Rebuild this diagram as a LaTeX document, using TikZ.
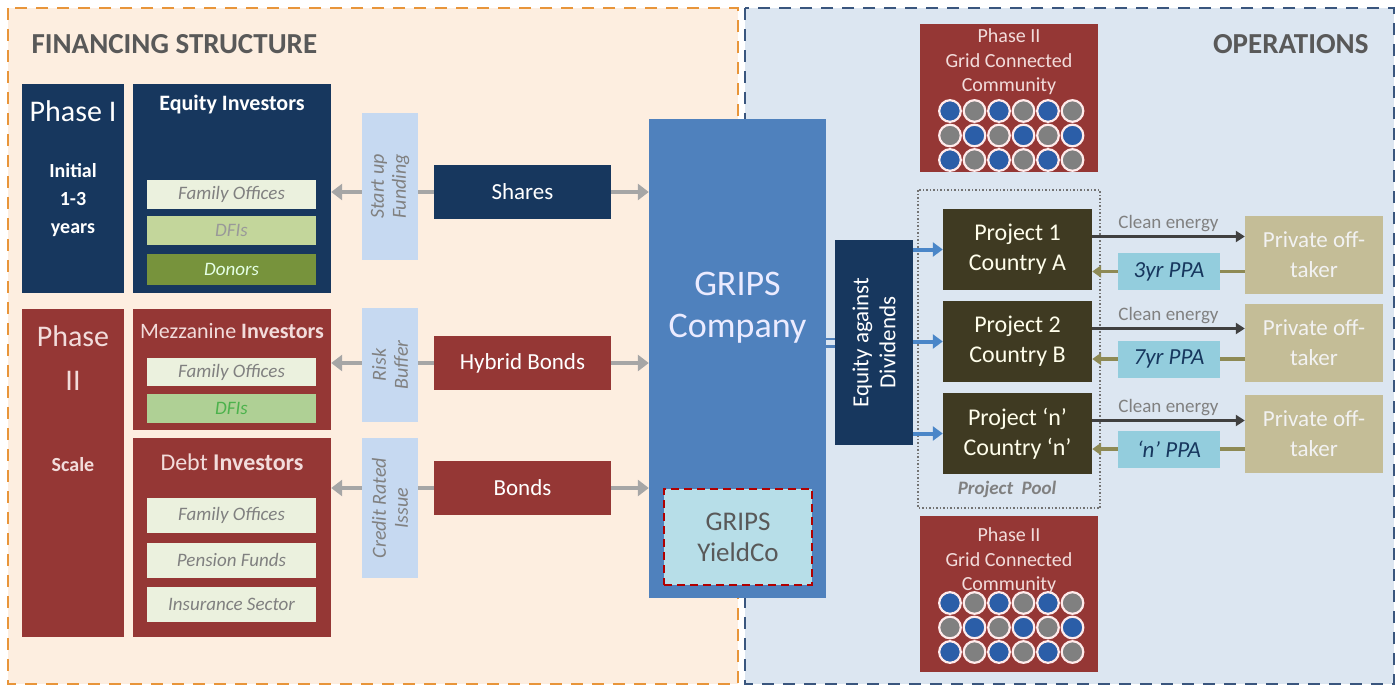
\documentclass[tikz,border=0pt]{standalone}
\usepackage{fontspec}
\setmainfont{Carlito}
\usepackage{xcolor}
\usetikzlibrary{arrows.meta,positioning}

\definecolor{navy}{HTML}{17375E}
\definecolor{brick}{HTML}{953735}
\definecolor{peach}{HTML}{FDEEE0}
\definecolor{paleblue}{HTML}{DCE6F1}
\definecolor{frameorange}{HTML}{E8953A}
\definecolor{framenavy}{HTML}{3A567E}
\definecolor{gripsblue}{HTML}{4F81BD}
\definecolor{labelblue}{HTML}{C6D9F1}
\definecolor{yieldcyan}{HTML}{B7DEE8}
\definecolor{ppacyan}{HTML}{93CDDD}
\definecolor{projbrown}{HTML}{3F3A22}
\definecolor{offtan}{HTML}{C4BD97}
\definecolor{fopale}{HTML}{EBF1DE}
\definecolor{dfigreen}{HTML}{C3D69B}
\definecolor{mzgreen}{HTML}{AFD095}
\definecolor{donorgreen}{HTML}{77933C}
\definecolor{arrowgray}{HTML}{A6A6A6}
\definecolor{arrowblue}{HTML}{4A86C8}
\definecolor{arrowolive}{HTML}{8E8A55}
\definecolor{dotblue}{HTML}{2B5EA8}
\definecolor{dotgray}{HTML}{808080}
\definecolor{pinkwhite}{HTML}{F2DCDB}

\begin{document}
\begin{tikzpicture}[x=1pt, y=-1pt,
		box/.style={inner sep=2pt, align=center, text=white},
		navybox/.style={box, fill=navy},
		redbox/.style={box, fill=brick},
		subbox/.style={box, minimum width=169pt, text=gray, font=\fontsize{19}{21}\selectfont\itshape},
		lblbox/.style={box, fill=labelblue, rotate=90, text=gray, font=\fontsize{20}{22}\selectfont\itshape},
		midbox/.style={box, minimum width=177pt, minimum height=54pt, font=\fontsize{23}{25}\selectfont},
		projbox/.style={box, fill=projbrown, minimum width=149pt, minimum height=81pt, text=white!92!yellow, font=\fontsize{24}{30}\selectfont},
		offbox/.style={box, fill=offtan, minimum width=138pt, minimum height=78pt, text=white!95!black, font=\fontsize{23}{30}\selectfont},
		ppabox/.style={box, fill=ppacyan, minimum width=102pt, minimum height=37pt, text=navy, font=\fontsize{23}{25}\selectfont\itshape},
		combox/.style={box, fill=brick, minimum width=178pt, text=pinkwhite},
		comtext/.style={box, text=pinkwhite, font=\fontsize{20}{24.5}\selectfont},
		grayarrow/.style={draw=arrowgray, line width=4.5pt, -{Triangle[length=11pt,width=16pt]}},
		bluearrow/.style={draw=arrowblue, line width=4pt, -{Triangle[length=10pt,width=14pt]}},
		cleanarrow/.style={draw=black!75, line width=2.5pt, -{Triangle[length=9pt,width=11pt]}},
		ppaarrow/.style={draw=arrowolive, line width=3.5pt, -{Triangle[length=9pt,width=12pt]}},
		ppaline/.style={draw=arrowolive, line width=3.5pt},
		energylbl/.style={text=gray, font=\fontsize{19}{21}\selectfont},
		area/.style={line width=2pt, dash pattern=on 12pt off 9pt}
	]
	\useasboundingbox (0,0) rectangle (1400,688);
	\fill[white] (0,0) rectangle (1400,688);

	% the two areas
	\draw[area, draw=frameorange, fill=peach] (8,8) rectangle (738,684);
	\draw[area, draw=framenavy, fill=paleblue] (745,8) rectangle (1394,684);
	\node[anchor=west, text=black!65, font=\fontsize{29}{31}\selectfont\bfseries] (fintitle) at (28,44) {FINANCING STRUCTURE};
	\node[anchor=east, text=black!65, font=\fontsize{29}{31}\selectfont\bfseries] (optitle) at (1372,44) {OPERATIONS};

	% phase I
	\node[navybox, minimum width=102pt, minimum height=209pt] (phaseone) at (73,188.5) {};
	\node[box, font=\fontsize{30}{32}\selectfont] (phaseonename) at (73,111) {Phase I};
	\node[box, font=\fontsize{20}{28}\selectfont\bfseries] (phaseoneyears) at (73,200) {Initial\\1-3\\years};
	\node[navybox, minimum width=198pt, minimum height=209pt] (equity) at (232,188.5) {};
	\node[box, font=\fontsize{22}{24}\selectfont\bfseries] (equityhead) at (232,105) {Equity Investors};
	\node[subbox, fill=fopale, minimum height=29pt] (eqfo) at (231.5,194.5) {Family Offices};
	\node[subbox, fill=dfigreen, minimum height=29pt, text=gray!80] (eqdfi) at (231.5,230.5) {DFIs};
	\node[subbox, fill=donorgreen, minimum height=31pt, text=white!90!green] (eqdonor) at (231.5,269) {Donors};

	% phase II
	\node[redbox, minimum width=102pt, minimum height=328pt] (phasetwo) at (73,473) {};
	\node[box, text=pinkwhite, font=\fontsize{30}{44}\selectfont] (phasetwoname) at (73,358) {Phase\\II};
	\node[box, text=pinkwhite, font=\fontsize{20}{22}\selectfont\bfseries] (phasetwoscale) at (73,465) {Scale};
	\node[redbox, minimum width=198pt, minimum height=121pt] (mezz) at (232,369.5) {};
	\node[box, text=pinkwhite, font=\fontsize{22}{24}\selectfont] (mezzhead) at (232,331) {Mezzanine \textbf{Investors}};
	\node[subbox, fill=fopale, minimum height=28pt] (mzfo) at (231.5,372) {Family Offices};
	\node[subbox, fill=mzgreen, minimum height=29pt, text=green!40!gray] (mzdfi) at (231.5,408.5) {DFIs};
	\node[redbox, minimum width=198pt, minimum height=199pt] (debt) at (232,537.5) {};
	\node[box, text=pinkwhite, font=\fontsize{24}{26}\selectfont] (debthead) at (232,462) {Debt \textbf{Investors}};
	\node[subbox, fill=fopale, minimum height=35pt] (dbfo) at (231.5,515) {Family Offices};
	\node[subbox, fill=fopale, minimum height=35pt] (dbpension) at (231.5,560) {Pension Funds};
	\node[subbox, fill=fopale, minimum height=35pt] (dbinsure) at (231.5,604.5) {Insurance Sector};

	% what each issue is for
	\node[lblbox, minimum width=147pt, minimum height=56pt] (startup) at (390,186.5) {Start up\\Funding};
	\node[lblbox, minimum width=114pt, minimum height=56pt] (risk) at (390,365) {Risk\\Buffer};
	\node[lblbox, minimum width=140pt, minimum height=56pt] (credit) at (390,508) {Credit Rated\\Issue};

	% instruments
	\node[midbox, fill=navy] (shares) at (522.5,192) {Shares};
	\node[midbox, fill=brick] (hybrid) at (522.5,363) {Hybrid Bonds};
	\node[midbox, fill=brick] (bonds) at (522.5,488) {Bonds};

	% company
	\node[box, fill=gripsblue, minimum width=177pt, minimum height=479pt] (grips) at (737.5,358.5) {};
	\node[box, text=white!92!blue, font=\fontsize{36}{42}\selectfont] (gripsname) at (737.5,308) {GRIPS\\Company};
	\node[box, fill=yieldcyan, draw=red!70!black, dash pattern=on 8pt off 5pt, line width=2pt, minimum width=148pt, minimum height=96pt, text=black!65, font=\fontsize{27}{31}\selectfont] (yieldco) at (738,537) {GRIPS\\YieldCo};

	\foreach \lbl/\inst/\inv in {startup/shares/equity, risk/hybrid/mezz, credit/bonds/debt} {
		\draw[grayarrow] (\lbl.north |- \inst) -- (\inv.east |- \inst);
		\draw[draw=arrowgray, line width=4.5pt] (\inst.west) -- (\lbl.south |- \inst);
		\draw[grayarrow] (\inst.east) -- (grips.west |- \inst);
	}

	% operations
	\node[navybox, rotate=90, minimum width=205pt, minimum height=78pt, font=\fontsize{23}{27}\selectfont] (eqdiv) at (874,342.5) {Equity against\\Dividends};
	\draw[draw=gripsblue, line width=2.5pt, double=paleblue, double distance=5pt] (grips.east |- eqdiv) -- (eqdiv.north);

	\draw[dotted, line width=1.5pt, draw=black!55] (918,190) rectangle (1100,508);
	\node[text=gray, font=\fontsize{19}{21}\selectfont\bfseries\itshape] (pool) at (1007,489) {Project\ \ Pool};

	\node[projbox] (proja) at (1017.5,249.5) {Project 1\\Country A};
	\node[projbox] (projb) at (1017.5,341.5) {Project 2\\Country B};
	\node[projbox] (projn) at (1017.5,433.5) {Project `n'\\Country `n'};

	\node[offbox] (offa) at (1314,255) {Private off-\\taker};
	\node[offbox] (offb) at (1314,343) {Private off-\\taker};
	\node[offbox] (offn) at (1314,434) {Private off-\\taker};

	\node[ppabox] (ppaa) at (1169,271.5) {3yr PPA};
	\node[ppabox] (ppab) at (1169,359) {7yr PPA};
	\node[ppabox] (ppan) at (1169,449) {`n' PPA};

	\foreach \p/\o/\k in {proja/offa/ppaa, projb/offb/ppab, projn/offn/ppan} {
		\draw[bluearrow] (eqdiv.south |- \p) -- (\p.west);
		\coordinate (\p energy) at ([yshift=13pt]\p.east);
		\draw[cleanarrow] (\p energy) -- (\p energy -| \o.west) node[midway, above=0pt, energylbl] {Clean energy};
		\draw[ppaline] (\k.east -| \o.west) -- (\k.east);
		\draw[ppaarrow] (\k.west) -- (\k.west -| \p.east);
	}

	% grid connected communities
	\node[combox, minimum height=148pt] (comtop) at (1009,98) {};
	\node[comtext] (comtopname) at (1009,62) {Phase II\\Grid Connected\\Community};
	\node[combox, minimum height=156pt] (combottom) at (1009,594) {};
	\node[comtext] (combottomname) at (1009,561) {Phase II\\Grid Connected\\Community};
	\foreach \top in {111,603} {
		\foreach \i in {0,...,5} {
			\foreach \j in {0,1,2} {
				\pgfmathtruncatemacro\odd{mod(\i+\j,2)}
				\ifnum\odd=0 \def\dotcol{dotblue}\else\def\dotcol{dotgray}\fi
				\filldraw[fill=\dotcol, draw=white!92!red, line width=2.2pt] (950+24.5*\i,\top+24.5*\j) circle (10.8pt);
			}
		}
	}
\end{tikzpicture}
\end{document}
